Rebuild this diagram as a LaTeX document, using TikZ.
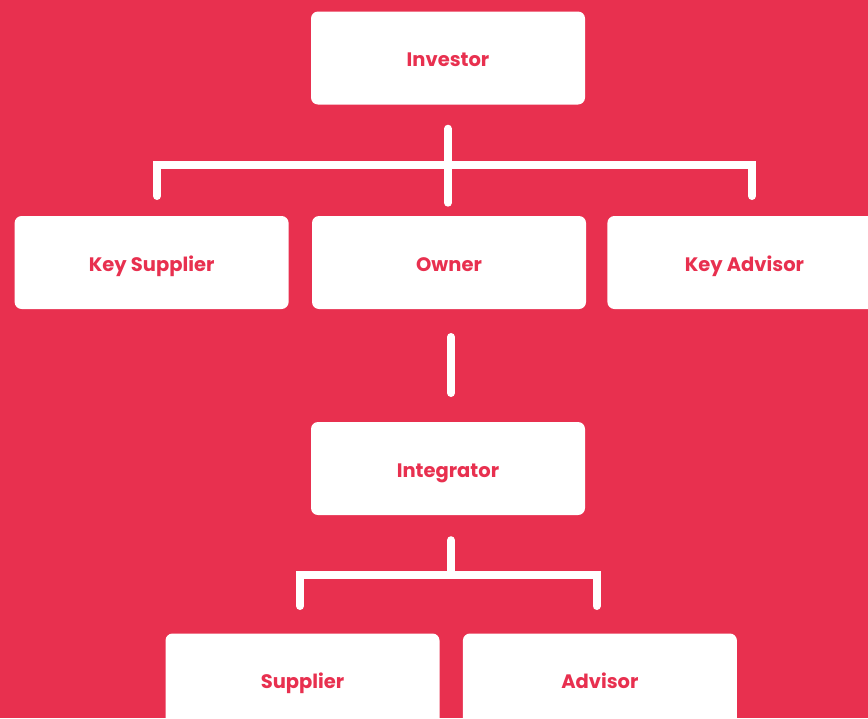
\documentclass[tikz,border=0pt]{standalone}
\usepackage{fontspec}
\setmainfont{Poppins}
\usetikzlibrary{positioning}
\definecolor{brandred}{HTML}{E8304F}
\tikzset{
	party/.style={rectangle, fill=white, rounded corners=7pt, minimum width=274pt, minimum height=93pt, text=brandred, text height=17pt, text depth=0pt, font=\bfseries\fontsize{19.5}{22}\selectfont},
	link/.style={draw=white, line width=8pt, line cap=round, line join=miter},
}
\begin{document}
\begin{tikzpicture}[x=1pt,y=-1pt]
	\fill[brandred] (0,0) rectangle (868,718);
	\useasboundingbox (0,0) rectangle (868,718);
	% top level
	\node[party] (inv) at (448,58) {Investor};
	\node[party] (own) at (449,262.5) {Owner};
	\node[party, left=23pt of own] (ksup) {Key Supplier};
	\node[party, right=21pt of own] (kadv) {Key Advisor};
	% lower levels
	\node[party] (intg) at (448,468.5) {Integrator};
	\node[party] (sup) at (302.5,680) {Supplier};
	\node[party, right=23pt of sup] (adv) {Advisor};
	% bracket under investor
	\draw[link] (inv.south) ++(0,24) -- ++(0,74);
	\draw[link] (157,196) -- (157,164.5) -- (752,164.5) -- (752,196);
	% owner to integrator
	\draw[link] (451,337) -- (451,393);
	% bracket under integrator
	\draw[link] (intg.south) ++(3,25) -- ++(0,34);
	\draw[link] (300,606) -- (300,574.5) -- (596.5,574.5) -- (596.5,606);
\end{tikzpicture}
\end{document}
